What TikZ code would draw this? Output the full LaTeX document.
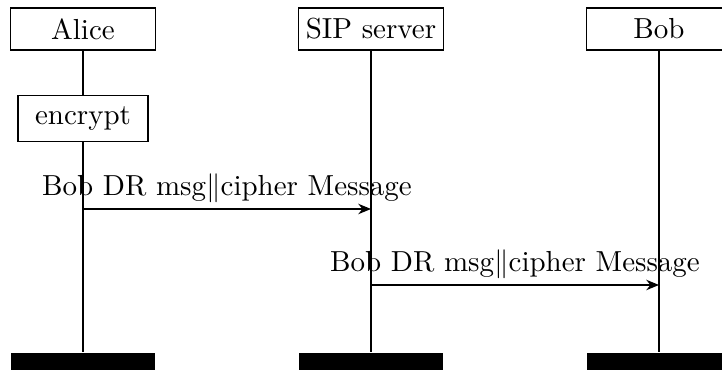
\documentclass[tikz,border=0pt]{standalone}
\usetikzlibrary{arrows.meta}
\begin{document}
\begin{tikzpicture}[x=0.345pt, y=-0.345pt,
  thread/.style={draw, line width=0.5pt, minimum width=50pt, minimum height=14.5pt, inner sep=0pt},
  callbox/.style={draw, fill=white, line width=0.5pt, minimum width=44.9pt, minimum height=16pt, inner sep=0pt},
  endbar/.style={fill=black, minimum width=50pt, minimum height=7pt, inner sep=0pt},
  lifeline/.style={line width=0.5pt},
  msg/.style={line width=0.5pt, -{Stealth[length=4.4pt, width=3.6pt]}},
  msglabel/.style={midway, anchor=base, yshift=4.6pt, inner sep=0pt}]
\useasboundingbox (0,0) rectangle (722,370);

% participants
\node[thread] (alice) at (83,29) {Alice};
\node[thread] (sip) at (371,29) {SIP server};
\node[thread] (bob) at (659,29) {Bob};

% thread ends
\node[endbar] (aend) at (83,363) {};
\node[endbar] (send) at (371,363) {};
\node[endbar] (bend) at (659,363) {};

% local call
\node[callbox] (enc) at (83,118.5) {encrypt};

% lifelines
\draw[lifeline] (alice.south) -- (enc.north);
\draw[lifeline] (enc.south) -- (aend.north);
\draw[lifeline] (sip.south) -- (send.north);
\draw[lifeline] (bob.south) -- (bend.north);

% message anchors on the lifelines
\coordinate (a1) at (83,209);
\coordinate (s1) at (371,209);
\coordinate (s2) at (371,285);
\coordinate (b2) at (659,285);
\coordinate (bact1) at (659,287);
\coordinate (bact2) at (659,322);

% messages
\draw[msg] (a1) -- (s1) node[msglabel] {Bob DR msg$\|$cipher Message};
\draw[msg] (s2) -- (b2) node[msglabel] {Bob DR msg$\|$cipher Message};

% receiving activation on Bob
\draw[line width=0.65pt] (bact1) -- (bact2);
\end{tikzpicture}
\end{document}
